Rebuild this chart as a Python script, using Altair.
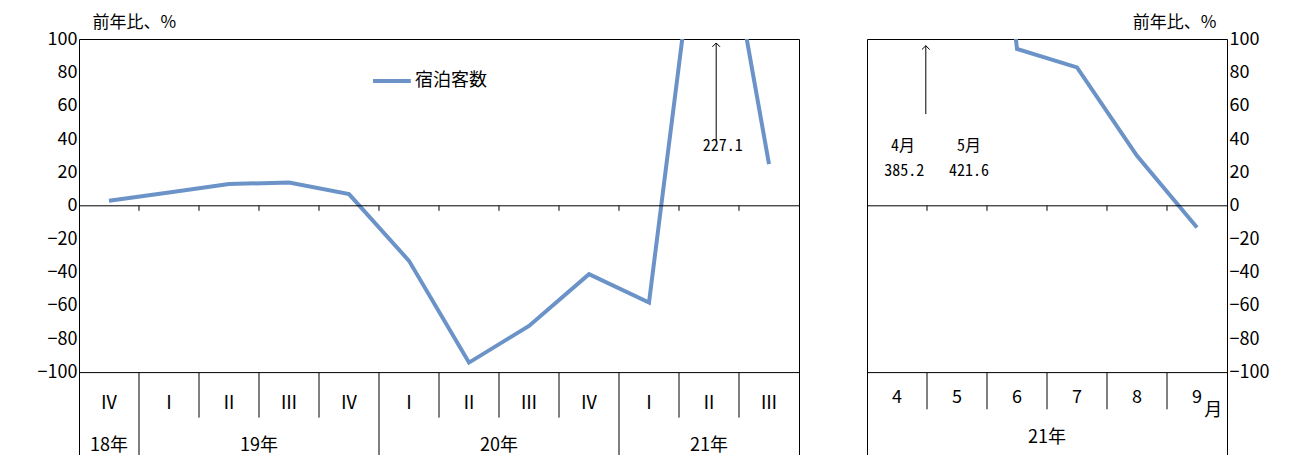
import altair as alt
import pandas as pd

FONT = "Noto Sans CJK JP"
LINE_COLOR = "#6b93c8"

# quarterly data (left panel)
quarters = ["Ⅳ", "Ⅰ", "Ⅱ", "Ⅲ", "Ⅳ", "Ⅰ", "Ⅱ", "Ⅲ", "Ⅳ", "Ⅰ", "Ⅱ", "Ⅲ"]
q_values = [3, 8, 13, 14, 7, -33, -94, -72, -41, -58, 227.1, 25]
years = ["18年", "19年", "20年", "21年"]
year_centers = [0.5, 3.0, 7.0, 10.5]
year_breaks = [1, 5, 9]
quarter_breaks = [2, 3, 4, 6, 7, 8, 10, 11]

# monthly data (right panel)
months = ["4", "5", "6", "7", "8", "9"]
m_values = [385.2, 421.6, 94, 83, 30, -13]

Y_DOMAIN = [-150, 100]
Y_TICKS = list(range(-100, 101, 20))
VIEW = alt.ViewBackground(stroke="black", strokeWidth=1, strokeOpacity=1)


def base_axis(orient, title_x, align):
    return alt.Axis(
        values=Y_TICKS, orient=orient, ticks=False, domain=False, grid=False,
        labelFontSize=18, labelColor="black", labelFont=FONT,
        title="前年比、%", titleAngle=0, titleFontSize=17, titleFont=FONT,
        titleFontWeight="normal", titleAlign=align, titleBaseline="middle",
        titleX=title_x, titleY=-17,
    )


def panel(n, values, labels, label_y, breaks_short, short_bottom, breaks_full, axis):
    xs = alt.Scale(domain=[0, n], nice=False, zero=False)
    ys = alt.Scale(domain=Y_DOMAIN, nice=False)
    X = alt.X("x:Q", scale=xs, axis=None)
    df = pd.DataFrame({"x": [i + 0.5 for i in range(n)], "v": values, "lab": labels})

    line = alt.Chart(df).mark_line(clip=True, color=LINE_COLOR, strokeWidth=4).encode(
        x=X, y=alt.Y("v:Q", scale=ys, axis=axis)
    )
    hrules = alt.Chart(pd.DataFrame({"y": [0, -100]})).mark_rule(color="black").encode(
        y=alt.Y("y:Q", scale=ys)
    )
    ticks = alt.Chart(pd.DataFrame({"x": list(range(1, n))})).mark_rule(color="black").encode(
        x=X, y=alt.datum(0, scale=ys), y2=alt.datum(-3)
    )
    short = alt.Chart(pd.DataFrame({"x": breaks_short})).mark_rule(color="black").encode(
        x=X, y=alt.datum(-100, scale=ys), y2=alt.datum(short_bottom)
    )
    layers = [line, hrules, ticks, short]
    if breaks_full:
        full = alt.Chart(pd.DataFrame({"x": breaks_full})).mark_rule(color="black").encode(
            x=X, y=alt.datum(-100, scale=ys), y2=alt.datum(-150)
        )
        layers.append(full)
    cat = alt.Chart(df).mark_text(fontSize=18, font=FONT, color="black").encode(
        x=X, y=alt.datum(label_y, scale=ys), text="lab:N"
    )
    layers.append(cat)
    return layers, X, ys


def text_layer(df, X, ys, size=16, align="center", font="Noto Sans Mono CJK JP"):
    return alt.Chart(df).mark_text(fontSize=size, font=font, color="black", align=align).encode(
        x=X, y=alt.Y("y:Q", scale=ys), text="t:N"
    )


def arrow(x, y0, y1, X, ys):
    d = pd.DataFrame({"x": [x], "y0": [y0], "y1": [y1]})
    shaft = alt.Chart(d).mark_rule(color="black").encode(
        x=X, y=alt.Y("y0:Q", scale=ys), y2="y1:Q"
    )
    head = alt.Chart(d).mark_point(
        shape="M-1,1L0,0L1,1", filled=False, size=60, color="black", strokeWidth=1, opacity=1
    ).encode(x=X, y=alt.Y("y1:Q", scale=ys))
    return [shaft, head]


# left panel
left_layers, LX, lys = panel(
    12, q_values, quarters, -119, quarter_breaks, -127, year_breaks,
    base_axis("left", 13, "left"),
)
years_df = pd.DataFrame({"x": year_centers, "y": [-144] * 4, "t": years})
left_layers.append(
    alt.Chart(years_df).mark_text(fontSize=18, font=FONT, color="black").encode(
        x=LX, y=alt.Y("y:Q", scale=lys), text="t:N"
    )
)
legend_line = alt.Chart(pd.DataFrame({"x": [4.9], "x2": [5.53], "y": [74.8]})).mark_rule(
    color=LINE_COLOR, strokeWidth=4
).encode(x=LX, x2="x2:Q", y=alt.Y("y:Q", scale=lys))
left_layers.append(legend_line)
left_layers.append(
    text_layer(pd.DataFrame({"x": [5.6], "y": [74.8], "t": ["宿泊客数"]}), LX, lys,
               size=18, align="left", font=FONT)
)
left_layers += arrow(10.62, 38.8, 97.6, LX, lys)
left_layers.append(text_layer(pd.DataFrame({"x": [10.73], "y": [36], "t": ["227.1"]}), LX, lys))
left = alt.layer(*left_layers).properties(width=720, height=417, view=VIEW)

# right panel
right_layers, RX, rys = panel(
    6, m_values, months, -115, [1, 2, 3, 4, 5], -122, [],
    base_axis("right", -11, "right"),
)
right_layers.append(
    alt.Chart(pd.DataFrame({"x": [5.77, 3.0], "y": [-123, -139], "t": ["月", "21年"]})).mark_text(
        fontSize=18, font=FONT, color="black"
    ).encode(x=RX, y=alt.Y("y:Q", scale=rys), text="t:N")
)
right_layers += arrow(0.98, 55, 96, RX, rys)
right_layers.append(
    text_layer(
        pd.DataFrame({"x": [0.6, 0.62, 1.7, 1.7], "y": [36, 21, 36, 21],
                      "t": ["4月", "385.2", "5月", "421.6"]}),
        RX, rys,
    )
)
right = alt.layer(*right_layers).properties(width=360, height=417, view=VIEW)

chart = (
    alt.hconcat(left, right, spacing=66)
    .properties(padding={"left": 28, "top": 4, "right": 0, "bottom": 0})
    .configure_view(stroke="black", strokeWidth=1, strokeOpacity=1)
    .configure(font=FONT)
)

chart.save("out.html", embed_options={"renderer": "svg", "actions": False})
